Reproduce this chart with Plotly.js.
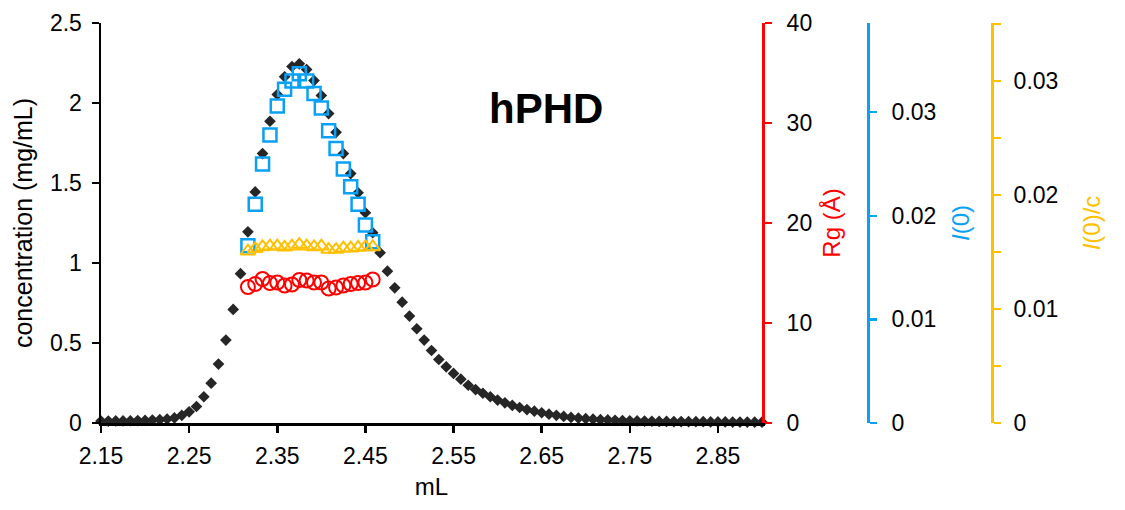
<!DOCTYPE html>
<html>
<head>
<meta charset="utf-8">
<script src="https://cdn.plot.ly/plotly-3.0.1.min.js"></script>
<style>
html,body{margin:0;padding:0;background:#fff;}
#chart{width:1125px;height:510px;}
</style>
</head>
<body>
<div id="chart"></div>
<script>
// Elution volume (mL) for the concentration trace
const volume = [2.1500,2.1583,2.1667,2.1750,2.1833,2.1917,2.2000,2.2083,2.2167,2.2250,
  2.2333,2.2417,2.2500,2.2583,2.2667,2.2750,2.2833,2.2917,2.3000,2.3083,
  2.3167,2.3250,2.3333,2.3417,2.3500,2.3583,2.3667,2.3750,2.3833,2.3917,
  2.4000,2.4083,2.4167,2.4250,2.4333,2.4417,2.4500,2.4583,2.4667,2.4750,
  2.4833,2.4917,2.5000,2.5083,2.5167,2.5250,2.5333,2.5417,2.5500,2.5583,
  2.5667,2.5750,2.5833,2.5917,2.6000,2.6083,2.6167,2.6250,2.6333,2.6417,
  2.6500,2.6583,2.6667,2.6750,2.6833,2.6917,2.7000,2.7083,2.7167,2.7250,
  2.7333,2.7417,2.7500,2.7583,2.7667,2.7750,2.7833,2.7917,2.8000,2.8083,
  2.8167,2.8250,2.8333,2.8417,2.8500,2.8583,2.8667,2.8750,2.8833,2.8917,2.9000];
// Concentration (mg/mL)
const concentration = [0.012,0.012,0.013,0.013,0.014,0.015,0.016,0.018,0.021,0.025,
  0.032,0.048,0.070,0.103,0.164,0.249,0.368,0.518,0.710,0.933,
  1.195,1.444,1.684,1.886,2.053,2.164,2.228,2.245,2.209,2.140,
  2.047,1.934,1.817,1.684,1.559,1.439,1.314,1.189,1.064,0.949,
  0.845,0.755,0.668,0.589,0.518,0.453,0.397,0.351,0.310,0.274,
  0.236,0.209,0.186,0.164,0.143,0.126,0.110,0.097,0.084,0.074,
  0.064,0.055,0.048,0.041,0.035,0.031,0.027,0.024,0.021,0.019,
  0.017,0.015,0.014,0.013,0.012,0.011,0.010,0.010,0.009,0.009,
  0.008,0.008,0.008,0.007,0.007,0.007,0.006,0.006,0.006,0.005,0.005];
// Volumes of the SAXS frames
const saxsVolume = [2.3167,2.3250,2.3333,2.3417,2.3500,2.3583,2.3667,2.3750,2.3833,
  2.3917,2.4000,2.4083,2.4167,2.4250,2.4333,2.4417,2.4500,2.4583];
// Radius of gyration (Å)
const rg = [13.6,13.9,14.4,14.0,14.05,13.75,13.85,14.3,14.25,14.05,14.05,13.45,13.55,13.75,13.9,14.0,14.05,14.35];
// I(0)
const i0 = [0.0171,0.0211,0.0250,0.0278,0.0306,0.0322,0.0330,0.0337,0.0330,0.0318,0.0304,0.0282,0.0265,0.0245,0.0228,0.0211,0.0191,0.0175];
// I(0)/c
const i0c = [0.01507,0.01528,0.01545,0.01551,0.01551,0.01542,0.01551,0.01566,0.01551,0.01545,0.01551,0.01522,0.01522,0.01534,0.01534,0.01540,0.01545,0.01545];

const FONT = 'Liberation Sans, Arial, sans-serif';
const RED = '#FF0000', BLUE = '#0AA0F5', YEL = '#FFC000', BLK = '#000000';

const traces = [
  {x: volume, y: concentration, type: 'scatter', mode: 'markers', name: 'concentration',
   marker: {symbol: 'diamond', size: 9, color: '#262626'}, cliponaxis: false, yaxis: 'y'},
  {x: saxsVolume, y: rg, type: 'scatter', mode: 'markers', name: 'Rg',
   marker: {symbol: 'circle-open', size: 14, color: RED, line: {width: 2, color: RED}}, cliponaxis: false, yaxis: 'y2'},
  {x: saxsVolume, y: i0, type: 'scatter', mode: 'markers', name: 'I(0)',
   marker: {symbol: 'square-open', size: 13, color: BLUE, line: {width: 2.5, color: BLUE}}, cliponaxis: false, yaxis: 'y3'},
  {x: saxsVolume, y: i0c, type: 'scatter', mode: 'markers', name: 'I(0)/c',
   marker: {symbol: 'triangle-up-open', size: 13, color: YEL, line: {width: 2, color: YEL}}, cliponaxis: false, yaxis: 'y4'}
];

const tickFont = {family: FONT, size: 23, color: '#000'};
const W = 1024;
const layout = {
  width: 1125, height: 510,
  margin: {l: 101, r: 0, t: 23, b: 87, pad: 0},
  paper_bgcolor: '#fff', plot_bgcolor: '#fff',
  showlegend: false,
  font: {family: FONT, size: 23, color: '#000'},
  xaxis: {
    domain: [0, 661 / W], range: [2.15, 2.90], tick0: 2.15, dtick: 0.1,
    showgrid: false, zeroline: false, showline: true, linecolor: BLK, linewidth: 2.5,
    ticks: 'outside', ticklen: 7, tickwidth: 2.5, tickcolor: BLK, tickfont: tickFont,
    ticklabelstandoff: 4,
    title: {text: 'mL', font: {family: FONT, size: 24, color: '#000'}, standoff: 10}
  },
  yaxis: {
    range: [0, 2.5], dtick: 0.5, showgrid: false, zeroline: false,
    showline: true, linecolor: BLK, linewidth: 2.5,
    ticks: 'outside', ticklen: 7, tickwidth: 2.5, tickcolor: BLK, tickfont: tickFont,
    ticklabelstandoff: 5,
    title: {text: 'concentration (mg/mL)', font: {family: FONT, size: 25, color: '#000'}, standoff: 10}
  },
  yaxis2: {
    overlaying: 'y', side: 'right', anchor: 'x', range: [0, 40], dtick: 10,
    showgrid: false, zeroline: false, showline: true, linecolor: RED, linewidth: 3,
    ticks: 'outside', ticklen: 7, tickwidth: 2.5, tickcolor: RED, tickfont: tickFont,
    ticklabelstandoff: 10,
    title: {text: 'Rg (Å)', font: {family: FONT, size: 24, color: RED}, standoff: 13}
  },
  yaxis3: {
    overlaying: 'y', side: 'right', anchor: 'free', position: (868 - 101) / W,
    range: [0, 0.0386], tickvals: [0, 0.01, 0.02, 0.03], ticktext: ['0', '0.01', '0.02', '0.03'],
    showgrid: false, zeroline: false, showline: true, linecolor: BLUE, linewidth: 3,
    ticks: 'outside', ticklen: 7, tickwidth: 2.5, tickcolor: BLUE, tickfont: tickFont,
    ticklabelstandoff: 10,
    title: {text: '<i>I</i>(0)', font: {family: FONT, size: 24, color: BLUE}, standoff: 16}
  },
  yaxis4: {
    overlaying: 'y', side: 'right', anchor: 'free', position: (992 - 101) / W,
    range: [0, 0.0351], tickvals: [0, 0.01, 0.02, 0.03], ticktext: ['0', '0.01', '0.02', '0.03'],
    minor: {dtick: 0.005, ticks: 'outside', ticklen: 7, tickwidth: 2.5, tickcolor: YEL, showgrid: false},
    showgrid: false, zeroline: false, showline: true, linecolor: YEL, linewidth: 3,
    ticks: 'outside', ticklen: 7, tickwidth: 2.5, tickcolor: YEL, tickfont: tickFont,
    ticklabelstandoff: 8,
    title: {text: '<i>I</i>(0)/c', font: {family: FONT, size: 24, color: YEL}, standoff: 25}
  },
  annotations: [
    {text: '<b>hPHD</b>', xref: 'paper', yref: 'paper', x: (546 - 101) / W, y: (423.5 - 109) / 400,
     xanchor: 'center', yanchor: 'middle', showarrow: false,
     font: {family: FONT, size: 42, color: '#000'}}
  ]
};

Plotly.newPlot('chart', traces, layout, {displayModeBar: false, staticPlot: true});
</script>
</body>
</html>
